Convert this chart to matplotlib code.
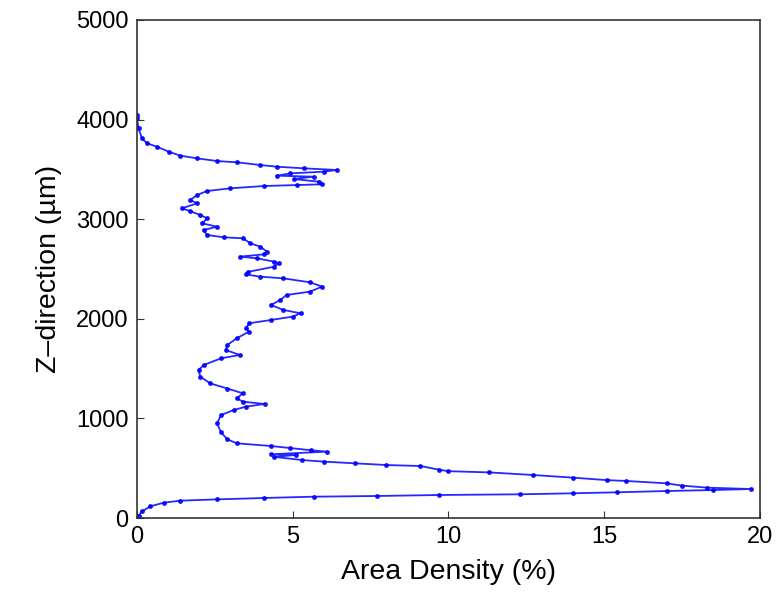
import numpy as np
import matplotlib
matplotlib.use('Agg')
import matplotlib.pyplot as plt

plt.rcParams['font.family'] = ['Liberation Sans', 'DejaVu Sans']

# area density (%), bottom to top
density = [0.0, 0.05, 0.16, 0.43, 0.86, 1.39, 2.57, 4.07, 5.67, 7.7, 9.7,
           12.3, 14.0, 15.4, 17.0, 18.5, 19.7, 18.3, 17.5, 17.0, 15.7, 15.1,
           14.0, 12.7, 11.3, 10.0, 9.7, 9.1, 8.0, 7.0, 6.0, 5.3, 4.4, 5.1,
           4.3, 6.1, 5.6, 4.9, 4.3, 3.2, 2.9, 2.7, 2.57, 2.7, 3.1, 3.5, 4.1,
           3.4, 3.2, 3.4, 2.9, 2.35, 2.03, 1.98, 2.14, 2.7, 3.3, 2.85, 2.9,
           3.2, 3.6, 3.5, 3.6, 4.3, 5.0, 5.25, 4.7, 4.3, 4.6, 4.8, 5.56, 5.94,
           5.56, 4.7, 3.96, 3.5, 3.55, 4.4, 4.55, 4.4, 3.85, 3.3, 4.07, 4.17,
           3.96, 3.64, 3.4, 2.8, 2.25, 2.14, 2.57, 2.1, 2.25, 2.03, 1.7, 1.44,
           1.93, 1.71, 1.93, 2.25, 3.0, 4.07, 5.14, 5.94, 5.83, 5.03, 5.67,
           4.49, 4.92, 5.99, 6.42, 5.35, 4.49, 3.96, 3.21, 2.57, 1.93, 1.39,
           1.02, 0.64, 0.32, 0.16, 0.05, 0.0, 0.0]

# z position (um)
z_pos = [0, 20, 67, 117, 154, 174, 187, 201, 214, 221, 231,
         238, 248, 258, 271, 281, 291, 305, 325, 348, 372, 380,
         405, 432, 458, 470, 485, 522, 532, 549, 566, 582, 614, 633,
         640, 666, 680, 703, 723, 750, 790, 860, 950, 1034, 1084, 1118, 1145,
         1168, 1201, 1252, 1300, 1352, 1419, 1486, 1536, 1603, 1637, 1687, 1737,
         1804, 1871, 1905, 1955, 1988, 2022, 2055, 2089, 2139, 2189, 2239, 2273, 2323,
         2366, 2406, 2423, 2445, 2470, 2523, 2557, 2574, 2607, 2624, 2647, 2674,
         2724, 2758, 2808, 2818, 2841, 2891, 2925, 2958, 3009, 3042, 3082, 3109,
         3159, 3193, 3243, 3283, 3310, 3333, 3343, 3350, 3377, 3403, 3427,
         3437, 3460, 3477, 3494, 3511, 3527, 3544, 3571, 3584, 3611, 3638,
         3678, 3728, 3762, 3812, 3912, 4013, 4050]

fig = plt.figure(figsize=(7.8, 5.95), dpi=100)
ax = fig.add_axes([0.1756, 0.1294, 0.7988, 0.837])

ax.plot(density, z_pos, color='#0000ff', lw=1.3, marker='.', ms=5, alpha=0.85)

ax.set_xlim(0, 20)
ax.set_ylim(0, 5000)
ax.set_xticks([0, 5, 10, 15, 20])
ax.set_yticks([0, 1000, 2000, 3000, 4000, 5000])
ax.tick_params(direction='in', length=5, labelsize=17, pad=6, color='#333333')
for s in ax.spines.values():
    s.set_linewidth(1.2)
    s.set_color('#333333')

ax.set_xlabel('Area Density (%)', fontsize=20.5, labelpad=8)
ax.set_ylabel('Z\u2013direction (\u00b5m)', fontsize=20.5, labelpad=10)

fig.savefig('out.png', dpi=100)
